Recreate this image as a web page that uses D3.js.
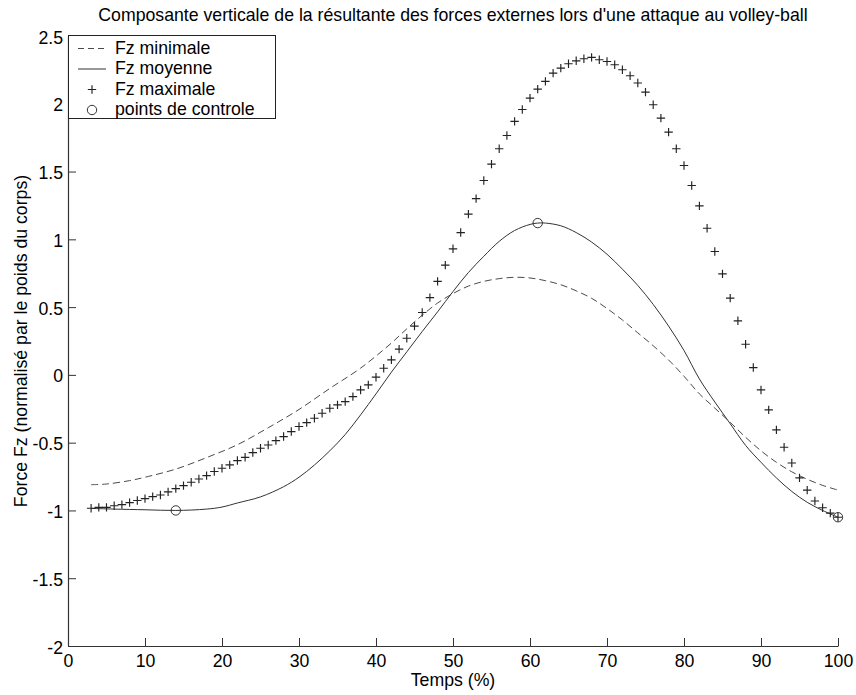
<!DOCTYPE html>
<html>
<head>
<meta charset="utf-8">
<script src="https://cdn.jsdelivr.net/npm/d3@7"></script>
<style>
  html, body { margin: 0; padding: 0; background: #fff; }
  svg { display: block; }
  text { font-family: "Liberation Sans", Arial, Helvetica, sans-serif; fill: #000; }
</style>
</head>
<body>
<svg id="chart" width="856" height="695"></svg>
<script>
// ---- Data ----
const titleText = "Composante verticale de la résultante des forces externes lors d'une attaque au volley-ball";
const xLabelText = "Temps (%)";
const yLabelText = "Force Fz (normalisé par le poids du corps)";
const legendLabels = ["Fz minimale", "Fz moyenne", "Fz maximale", "points de controle"];

const xTicks = [0, 10, 20, 30, 40, 50, 60, 70, 80, 90, 100];
const yTicks = [-2, -1.5, -1, -0.5, 0, 0.5, 1, 1.5, 2, 2.5];
const yTickLabels = ["-2", "-1.5", "-1", "-0.5", "0", "0.5", "1", "1.5", "2", "2.5"];

// Fz minimale (dashed) – readings
const minX = [3, 5, 8, 10, 14, 18, 22, 26, 30, 34, 38, 42, 44, 46, 48, 50, 52, 54, 56, 58, 60, 62, 64, 66, 68, 70, 72, 74, 76, 78, 80, 82, 84, 86, 88, 90, 92, 94, 96, 98, 100];
const minY = [-0.81, -0.805, -0.78, -0.755, -0.695, -0.61, -0.515, -0.39, -0.255, -0.10, 0.05, 0.235, 0.34, 0.44, 0.53, 0.60, 0.655, 0.69, 0.71, 0.72, 0.715, 0.695, 0.665, 0.62, 0.565, 0.49, 0.405, 0.31, 0.215, 0.11, -0.01, -0.14, -0.245, -0.35, -0.46, -0.56, -0.645, -0.715, -0.77, -0.815, -0.85];

// Fz moyenne (solid) – readings
const meanX = [3, 6, 10, 14, 18, 20, 22, 25, 28, 30, 32, 34, 36, 38, 40, 42, 44, 46, 48, 50, 52, 54, 56, 58, 60, 61, 62, 64, 66, 68, 70, 72, 74, 76, 78, 80, 82, 84, 86, 88, 90, 92, 94, 96, 98, 100];
const meanY = [-0.985, -0.99, -0.995, -1.0, -0.99, -0.975, -0.945, -0.90, -0.825, -0.755, -0.665, -0.56, -0.44, -0.295, -0.14, 0.02, 0.17, 0.32, 0.465, 0.615, 0.755, 0.875, 0.985, 1.065, 1.11, 1.12, 1.12, 1.10, 1.05, 0.98, 0.89, 0.78, 0.66, 0.52, 0.36, 0.18, -0.03, -0.20, -0.36, -0.52, -0.645, -0.76, -0.86, -0.94, -1.0, -1.05];

// Fz maximale (+ markers) – one reading per percent, 3..100
const maxX = d3.range(3, 101);
const maxY = [
  -0.984, -0.977, -0.977, -0.965, -0.957, -0.942, -0.927, -0.913, -0.898, -0.886,   // 3-12
  -0.863, -0.839, -0.817, -0.792, -0.768, -0.743, -0.713, -0.689, -0.664, -0.632,   // 13-22
  -0.608, -0.573, -0.541, -0.517, -0.485, -0.455, -0.418, -0.381, -0.352, -0.320,   // 23-32
  -0.283, -0.246, -0.221, -0.197, -0.160, -0.111, -0.074, -0.017, 0.049, 0.111,     // 33-42
  0.19, 0.27, 0.36, 0.46, 0.57, 0.69, 0.81, 0.93, 1.05, 1.186,                      // 43-52
  1.30, 1.434, 1.555, 1.668, 1.766, 1.87, 1.958, 2.042, 2.108, 2.165,               // 53-62
  2.226, 2.263, 2.295, 2.317, 2.332, 2.342, 2.325, 2.312, 2.288, 2.251,             // 63-72
  2.207, 2.153, 2.086, 1.993, 1.894, 1.791, 1.668, 1.545, 1.397, 1.247,             // 73-82
  1.082, 0.910, 0.745, 0.566, 0.399, 0.226, 0.054, -0.111, -0.258, -0.406,          // 83-92
  -0.534, -0.65, -0.76, -0.85, -0.93, -0.98, -1.02, -1.05                           // 93-100
];

// points de controle
const ctrlX = [14, 61, 100];
const ctrlY = [-1.0, 1.12, -1.05];

// ---- Layout ----
const W = 856, H = 695;
const margin = { left: 68, top: 36, right: 856 - 838, bottom: 695 - 646 };
const iw = W - margin.left - margin.right;
const ih = H - margin.top - margin.bottom;
const FONT = 17.7;

const svg = d3.select("#chart");
const g = svg.append("g").attr("transform", `translate(${margin.left},${margin.top})`);

const x = d3.scaleLinear().domain([0, 100]).range([0, iw]);
const y = d3.scaleLinear().domain([-2, 2.5]).range([ih, 0]);

// Axes (ticks pointing inwards)
const xAxis = d3.axisBottom(x).tickValues(xTicks).tickSizeInner(-8).tickSizeOuter(0).tickPadding(0).tickFormat(d3.format("d"));
const yAxis = d3.axisLeft(y).tickValues(yTicks).tickSizeInner(-8).tickSizeOuter(0).tickPadding(0)
  .tickFormat((d, i) => yTickLabels[i]);

const gx = g.append("g").attr("transform", `translate(0,${ih})`).call(xAxis);
gx.select(".domain").attr("stroke", "#333").attr("stroke-width", 1.2);
gx.selectAll(".tick line").attr("stroke", "#333");
gx.selectAll(".tick text").attr("font-size", FONT).attr("y", 21).attr("dy", 0)
  .attr("font-family", '"Liberation Sans", Arial, sans-serif').attr("fill", "#000");

const gy = g.append("g").call(yAxis);
gy.select(".domain").attr("stroke", "#333").attr("stroke-width", 1.2);
gy.selectAll(".tick line").attr("stroke", "#333");
gy.selectAll(".tick text").attr("font-size", FONT).attr("x", -5).attr("dy", "0.4em")
  .attr("font-family", '"Liberation Sans", Arial, sans-serif').attr("fill", "#000");

// Lines
const minData = minX.map((v, i) => [v, minY[i]]);
const meanData = meanX.map((v, i) => [v, meanY[i]]);
const maxData = maxX.map((v, i) => [v, maxY[i]]);
const ctrlData = ctrlX.map((v, i) => [v, ctrlY[i]]);

const line = d3.line().x(d => x(d[0])).y(d => y(d[1])).curve(d3.curveCatmullRom.alpha(0.5));

g.append("path").datum(minData).attr("d", line)
  .attr("fill", "none").attr("stroke", "#4a4a4a").attr("stroke-width", 1).attr("stroke-dasharray", "7,4");

g.append("path").datum(meanData).attr("d", line)
  .attr("fill", "none").attr("stroke", "#333").attr("stroke-width", 1);

const s = 4.2;
g.append("g").selectAll("path").data(maxData).join("path")
  .attr("d", `M${-s},0H${s}M0,${-s}V${s}`)
  .attr("transform", d => `translate(${x(d[0])},${y(d[1])})`)
  .attr("stroke", "#222").attr("stroke-width", 1.15).attr("fill", "none");

g.append("g").selectAll("circle").data(ctrlData).join("circle")
  .attr("cx", d => x(d[0])).attr("cy", d => y(d[1])).attr("r", 4.7)
  .attr("fill", "none").attr("stroke", "#333").attr("stroke-width", 1);

// Title & labels
svg.append("text").attr("x", margin.left + iw / 2).attr("y", 21)
  .attr("text-anchor", "middle").attr("font-size", FONT).text(titleText);
svg.append("text").attr("x", margin.left + iw / 2).attr("y", 686)
  .attr("text-anchor", "middle").attr("font-size", FONT).text(xLabelText);
svg.append("text").attr("transform", `translate(27,${margin.top + ih / 2}) rotate(-90)`)
  .attr("text-anchor", "middle").attr("font-size", FONT).text(yLabelText);

// Legend
const lg = svg.append("g");
lg.append("rect").attr("x", 68.5).attr("y", 35.5).attr("width", 207).attr("height", 83)
  .attr("fill", "#fff").attr("stroke", "#222").attr("stroke-width", 1);
const baselines = [53.5, 74, 94.5, 115];
legendLabels.forEach((lab, i) => {
  const by = baselines[i];
  const cy = by - 5;
  if (i === 0) {
    lg.append("line").attr("x1", 78).attr("x2", 106).attr("y1", cy).attr("y2", cy)
      .attr("stroke", "#4a4a4a").attr("stroke-dasharray", "6,4");
  } else if (i === 1) {
    lg.append("line").attr("x1", 78).attr("x2", 106).attr("y1", cy).attr("y2", cy)
      .attr("stroke", "#333");
  } else if (i === 2) {
    lg.append("path").attr("d", `M${92 - s},${cy}H${92 + s}M92,${cy - s}V${cy + s}`)
      .attr("stroke", "#222").attr("stroke-width", 1.15).attr("fill", "none");
  } else {
    lg.append("circle").attr("cx", 92).attr("cy", cy).attr("r", 4.7)
      .attr("fill", "none").attr("stroke", "#333");
  }
  lg.append("text").attr("x", 115).attr("y", by).attr("font-size", FONT).text(lab);
});
</script>
</body>
</html>
